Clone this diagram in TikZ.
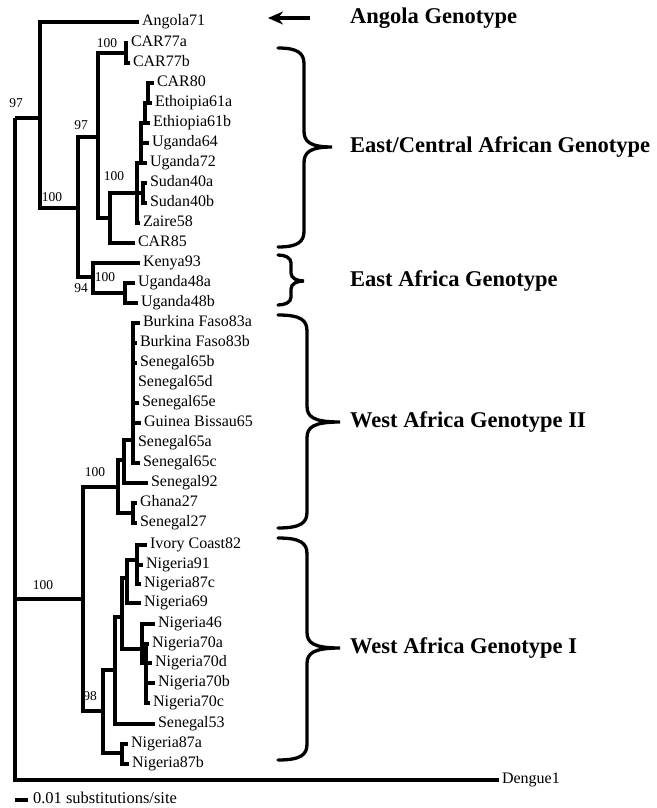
\documentclass[tikz,border=0pt]{standalone}
\usepackage{fontspec}
\setmainfont{Liberation Serif}
\usetikzlibrary{arrows.meta}

\begin{document}
\begin{tikzpicture}
[%%%%%%%%%%%%%%%%%%%%%%%%%%%%%%
x=1pt,y=-1pt,
branch/.style={line width=3.3pt},
leaf/.style={anchor=west,inner sep=0pt,outer xsep=3pt,text height=11pt,text depth=3.5pt,font=\fontsize{16}{18}\selectfont},
boot/.style={inner sep=0pt,font=\fontsize{13.5}{15}\selectfont},
geno/.style={anchor=west,inner sep=0pt,font=\bfseries\fontsize{22.5}{25}\selectfont},
curly/.style={line width=3.3pt,line cap=round},
]%%%%%%%%%%%%%%%%%%%%%%%%%%%%%%

\useasboundingbox (0,0) rectangle (656,808);

% leaves
\foreach \n/\x/\y/\t in {angola/139/22/Angola71, car77a/128/43/CAR77a, car77b/130/63/CAR77b,
 car80/154/83/CAR80, eth61a/152/103/Ethoipia61a, eth61b/150/123/Ethiopia61b,
 ug64/149/143/Uganda64, ug72/147/163/Uganda72, sud40a/147/183/Sudan40a,
 sud40b/147/203/Sudan40b, zaire/140/223/Zaire58, car85/135/243/CAR85,
 kenya/140/263/Kenya93, ug48a/135/283/Uganda48a, ug48b/138/303/Uganda48b,
 bf83a/140/323/Burkina Faso83a, bf83b/137/343/Burkina Faso83b, sen65b/137/363/Senegal65b,
 sen65d/135/383/Senegal65d, sen65e/139/403/Senegal65e, gb65/141/423/Guinea Bissau65,
 sen65a/135/443/Senegal65a, sen65c/140/463/Senegal65c, sen92/148/483/Senegal92,
 gh27/137/503/Ghana27, sen27/137/523/Senegal27, ic82/147/545/Ivory Coast82,
 nig91/143/565/Nigeria91, nig87c/141/584/Nigeria87c, nig69/141/603/Nigeria69,
 nig46/155/624/Nigeria46, nig70a/149/644/Nigeria70a, nig70d/152/663/Nigeria70d,
 nig70b/155/683/Nigeria70b, nig70c/150/703/Nigeria70c, sen53/155/724/Senegal53,
 nig87a/128/744/Nigeria87a, nig87b/129/764/Nigeria87b, dengue/499/780/Dengue1}
\node[leaf] (\n) at (\x,\y){\t};

% inner nodes
\coordinate (root) at (15,118);
\coordinate (na) at (40,118);
\coordinate (nb) at (78,208);
\coordinate (ne) at (98,137);
\coordinate (ncar) at (126,53);
\coordinate (nf) at (110,218);
\coordinate (ng) at (137,193);
\coordinate (nh) at (141,163);
\coordinate (ni) at (145,123);
\coordinate (nj) at (148,103);
\coordinate (nsud) at (143,193);
\coordinate (nc) at (93,277);
\coordinate (nd) at (125,293);
\coordinate (nw) at (83,599);
\coordinate (nwii) at (118,487);
\coordinate (np) at (124,460);
\coordinate (nq) at (133,440);
\coordinate (n27) at (133,513);
\coordinate (ni1) at (103,711);
\coordinate (n87) at (122,753);
\coordinate (ni2) at (115,670);
\coordinate (ni3) at (122,617);
\coordinate (ni4) at (127,578);
\coordinate (ni6) at (137,560);
\coordinate (ni5) at (142,649);
\coordinate (ni7) at (146,663);

\foreach \a/\b in {root/na, root/nw, na/nb, nb/ne, nb/nc, ne/ncar, ne/nf, nf/ng, ng/nh,
 ng/nsud, nh/ni, ni/nj, nc/nd, nw/nwii, nwii/np, nwii/n27, np/nq, nw/ni1, ni1/ni2,
 ni1/n87, ni2/ni3, ni3/ni4, ni3/ni5, ni4/ni6, ni5/ni7}
\draw[branch] (\a) |- (\b);

\foreach \a/\b in {root/dengue, na/angola, ncar/car77a, ncar/car77b, nj/car80, nj/eth61a,
 ni/eth61b, nh/ug64, nh/ug72, nsud/sud40a, nsud/sud40b, ng/zaire, nf/car85, nc/kenya,
 nd/ug48a, nd/ug48b, nq/bf83a, nq/bf83b, nq/sen65b, nq/sen65d, nq/sen65e, nq/gb65,
 nq/sen65a, nq/sen65c, np/sen92, n27/gh27, n27/sen27, ni6/ic82, ni6/nig91, ni6/nig87c,
 ni4/nig69, ni5/nig46, ni7/nig70a, ni7/nig70d, ni7/nig70b, ni7/nig70c, ni2/sen53,
 n87/nig87a, n87/nig87b}
\draw[branch] (\a) |- (\b.west);

% bootstrap values
\node[boot] (b1) at (16,103){97};
\node[boot] (b2) at (52,197){100};
\node[boot] (b3) at (81,125){97};
\node[boot] (b4) at (107,43){100};
\node[boot] (b5) at (114,176){100};
\node[boot] (b6) at (81,288){94};
\node[boot] (b7) at (105,277){100};
\node[boot] (b8) at (95,472){100};
\node[boot] (b9) at (43,585){100};
\node[boot] (b10) at (90,696){98};

% genotypes
\node[geno] (angg) at (350,18){Angola Genotype};
\node[geno] (ecag) at (350,147){East/Central African Genotype};
\node[geno] (eag) at (350,281){East Africa Genotype};
\node[geno] (wa2g) at (350,422){West Africa Genotype II};
\node[geno] (wa1g) at (350,648){West Africa Genotype I};

\coordinate (ar1) at (310,18);
\coordinate (ar2) at (268,18);
\draw[branch,-{Stealth[length=15pt,width=13pt]}] (ar1) -- (ar2);

\foreach \t/\m/\b/\s/\p/\r in {48/147/247/304/332/16, 255/281/305/291/304/8,
 315/422/528/307/340/16, 538/648/760/307/340/16}
\draw[curly] (278,\t) .. controls (\s-6,\t) and (\s,\t+\r/3) .. (\s,\t+\r)
 -- (\s,\m-\r) .. controls (\s,\m-\r/3) and (\s+6,\m) .. (\p,\m)
 .. controls (\s+6,\m) and (\s,\m+\r/3) .. (\s,\m+\r)
 -- (\s,\b-\r) .. controls (\s,\b-\r/3) and (\s-6,\b) .. (278,\b);

% scale
\node[leaf,outer xsep=5pt,font=\fontsize{16.5}{18}\selectfont] (scale) at (28,800){0.01 substitutions/site};
\coordinate (sb) at (15,800);
\draw[branch] (sb) -- (scale.west);
\end{tikzpicture}
\end{document}
